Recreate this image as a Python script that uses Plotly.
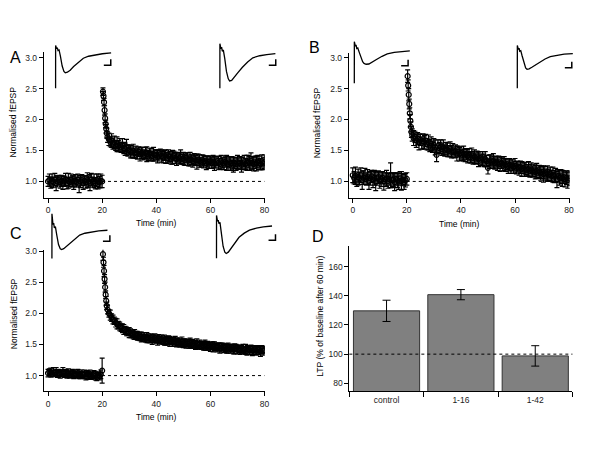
"""
LTP time courses (A-C) with example fEPSP traces, and LTP summary bars (D)
"""

import plotly.graph_objects as go

OFF = 8                       # browser body margin; figure sized to fit inside the view
W, H = 600 - 2 * OFF, 450 - 2 * OFF
FONT = "Liberation Sans, Arial, sans-serif"
FS = 8.5

# ---- time courses: sampling times (min) ----
base_t = [0, 0.5, 1, 1.5, 2, 2.5, 3, 3.5, 4, 4.5,
          5, 5.5, 6, 6.5, 7, 7.5, 8, 8.5, 9, 9.5,
          10, 10.5, 11, 11.5, 12, 12.5, 13, 13.5, 14, 14.5,
          15, 15.5, 16, 16.5, 17, 17.5, 18, 18.5, 19, 19.5, 20]
post_t = [20.3, 20.5, 20.7, 20.9, 21.1, 21.3, 21.5, 21.7,
          22, 22.5, 23, 23.5, 24, 24.5, 25, 25.5, 26, 26.5,
          27, 27.5, 28, 28.5, 29, 29.5, 30, 30.5, 31, 31.5,
          32, 32.5, 33, 33.5, 34, 34.5, 35, 35.5, 36, 36.5,
          37, 37.5, 38, 38.5, 39, 39.5, 40, 40.5, 41, 41.5,
          42, 42.5, 43, 43.5, 44, 44.5, 45, 45.5, 46, 46.5,
          47, 47.5, 48, 48.5, 49, 49.5, 50, 50.5, 51, 51.5,
          52, 52.5, 53, 53.5, 54, 54.5, 55, 55.5, 56, 56.5,
          57, 57.5, 58, 58.5, 59, 59.5, 60, 60.5, 61, 61.5,
          62, 62.5, 63, 63.5, 64, 64.5, 65, 65.5, 66, 66.5,
          67, 67.5, 68, 68.5, 69, 69.5, 70, 70.5, 71, 71.5,
          72, 72.5, 73, 73.5, 74, 74.5, 75, 75.5, 76, 76.5,
          77, 77.5, 78, 78.5, 79, 79.5, 80]

# ---- panel A ----
a_base = [1.0, 1.02, 0.98, 1.01, 0.99, 1.03, 0.97, 1.0, 1.02, 0.99,
          1.01, 0.98, 1.0, 1.03, 0.97, 1.01, 0.99, 1.02, 1.0, 0.98,
          1.01, 0.99, 1.03, 0.96, 1.0, 1.02, 0.98, 1.01, 0.99, 1.02,
          1.0, 0.98, 1.03, 0.99, 1.01, 0.97, 1.02, 1.0, 0.99, 1.01, 1.0]
a_base_err = [0.08, 0.1, 0.09, 0.11, 0.08, 0.1, 0.12, 0.09, 0.08, 0.1,
              0.09, 0.11, 0.08, 0.1, 0.09, 0.12, 0.08, 0.1, 0.09, 0.11,
              0.1, 0.08, 0.09, 0.14, 0.1, 0.09, 0.11, 0.08, 0.1, 0.12,
              0.09, 0.13, 0.1, 0.08, 0.11, 0.09, 0.1, 0.12, 0.09, 0.11, 0.1]
a_post = [2.45, 2.38, 2.28, 2.15, 2.02, 1.93, 1.85, 1.78,
          1.72, 1.68, 1.64, 1.66, 1.61, 1.63, 1.58, 1.6, 1.57, 1.59,
          1.55, 1.58, 1.54, 1.52, 1.55, 1.5, 1.51, 1.48, 1.47, 1.49,
          1.46, 1.47, 1.45, 1.48, 1.44, 1.46, 1.45, 1.43, 1.46, 1.44,
          1.42, 1.45, 1.43, 1.41, 1.44, 1.42, 1.43, 1.4, 1.42, 1.44,
          1.41, 1.39, 1.42, 1.4, 1.38, 1.41, 1.4, 1.37, 1.39, 1.41,
          1.38, 1.36, 1.39, 1.37, 1.4, 1.36, 1.37, 1.35, 1.38, 1.36,
          1.34, 1.36, 1.35, 1.33, 1.36, 1.34, 1.32, 1.35, 1.33, 1.31,
          1.34, 1.32, 1.33, 1.3, 1.32, 1.31, 1.33, 1.3, 1.32, 1.29,
          1.31, 1.33, 1.3, 1.28, 1.31, 1.3, 1.29, 1.32, 1.3, 1.28,
          1.31, 1.29, 1.3, 1.27, 1.3, 1.28, 1.31, 1.29, 1.3, 1.27,
          1.29, 1.31, 1.28, 1.3, 1.32, 1.29, 1.33, 1.3, 1.28, 1.31,
          1.29, 1.32, 1.3, 1.28, 1.31, 1.29, 1.32]
a_post_err = [0.06, 0.07, 0.06, 0.08, 0.07, 0.06, 0.07, 0.08,
              0.09, 0.1, 0.08, 0.11, 0.09, 0.1, 0.08, 0.12, 0.09, 0.1,
              0.08, 0.11, 0.09, 0.1, 0.13, 0.09, 0.08, 0.1, 0.09, 0.11,
              0.08, 0.1, 0.09, 0.08, 0.11, 0.09, 0.1, 0.08, 0.09, 0.12,
              0.08, 0.09, 0.1, 0.08, 0.11, 0.09, 0.08, 0.1, 0.09, 0.08,
              0.1, 0.09, 0.08, 0.11, 0.09, 0.1, 0.08, 0.09, 0.11, 0.08,
              0.09, 0.1, 0.08, 0.09, 0.11, 0.08, 0.1, 0.09, 0.08, 0.1,
              0.09, 0.11, 0.08, 0.1, 0.09, 0.08, 0.12, 0.09, 0.1, 0.08,
              0.09, 0.1, 0.08, 0.11, 0.09, 0.1, 0.08, 0.09, 0.1, 0.11,
              0.09, 0.08, 0.1, 0.09, 0.11, 0.08, 0.1, 0.09, 0.12, 0.1,
              0.09, 0.11, 0.1, 0.12, 0.09, 0.1, 0.11, 0.09, 0.1, 0.12,
              0.1, 0.11, 0.09, 0.12, 0.1, 0.11, 0.13, 0.1, 0.11, 0.1,
              0.12, 0.1, 0.11, 0.09, 0.12, 0.1, 0.11]

# ---- panel B ----
b_base = [1.1, 1.06, 1.09, 1.03, 1.07, 1.05, 1.1, 1.02, 1.06, 1.08,
          1.04, 1.07, 1.01, 1.05, 1.08, 1.03, 1.06, 1.0, 1.05, 1.07,
          1.02, 1.04, 1.06, 1.0, 1.03, 1.05, 1.01, 1.04, 1.1, 1.02,
          1.03, 0.99, 1.04, 1.02, 1.0, 1.05, 1.01, 1.03, 0.99, 1.02, 1.04]
b_base_err = [0.12, 0.1, 0.14, 0.11, 0.13, 0.1, 0.12, 0.15, 0.11, 0.13,
              0.1, 0.12, 0.14, 0.11, 0.1, 0.13, 0.12, 0.15, 0.11, 0.1,
              0.13, 0.12, 0.1, 0.14, 0.11, 0.13, 0.12, 0.1, 0.2, 0.12,
              0.11, 0.14, 0.1, 0.12, 0.13, 0.11, 0.15, 0.1, 0.12, 0.11, 0.1]
b_post = [2.7, 2.55, 2.4, 2.25, 2.1, 1.98, 1.88, 1.8,
          1.75, 1.7, 1.72, 1.66, 1.69, 1.64, 1.67, 1.62, 1.65, 1.63,
          1.66, 1.6, 1.63, 1.58, 1.61, 1.56, 1.59, 1.55, 1.43, 1.57,
          1.54, 1.56, 1.52, 1.55, 1.5, 1.53, 1.51, 1.49, 1.52, 1.48,
          1.5, 1.47, 1.49, 1.45, 1.48, 1.44, 1.46, 1.43, 1.45, 1.42,
          1.44, 1.41, 1.43, 1.39, 1.42, 1.38, 1.4, 1.37, 1.39, 1.36,
          1.38, 1.35, 1.37, 1.34, 1.36, 1.33, 1.22, 1.32, 1.34, 1.31,
          1.33, 1.3, 1.32, 1.29, 1.31, 1.28, 1.3, 1.27, 1.29, 1.26,
          1.28, 1.25, 1.27, 1.24, 1.26, 1.23, 1.25, 1.22, 1.24, 1.21,
          1.23, 1.2, 1.22, 1.19, 1.21, 1.18, 1.2, 1.17, 1.19, 1.16,
          1.18, 1.15, 1.17, 1.14, 1.16, 1.13, 1.15, 1.12, 1.14, 1.11,
          1.13, 1.1, 1.12, 1.09, 1.11, 1.08, 1.1, 1.03, 1.09, 1.06,
          1.08, 1.05, 1.07, 1.03, 1.06, 1.02, 1.05]
b_post_err = [0.1, 0.09, 0.1, 0.08, 0.09, 0.1, 0.08, 0.09,
              0.1, 0.12, 0.09, 0.11, 0.1, 0.13, 0.09, 0.1, 0.12, 0.11,
              0.1, 0.09, 0.12, 0.1, 0.11, 0.09, 0.1, 0.12, 0.11, 0.1,
              0.09, 0.11, 0.1, 0.12, 0.09, 0.1, 0.11, 0.09, 0.12, 0.1,
              0.11, 0.09, 0.1, 0.12, 0.09, 0.11, 0.1, 0.09, 0.12, 0.1,
              0.09, 0.11, 0.1, 0.09, 0.12, 0.1, 0.11, 0.09, 0.1, 0.12,
              0.1, 0.09, 0.11, 0.1, 0.12, 0.09, 0.1, 0.11, 0.09, 0.1,
              0.12, 0.1, 0.09, 0.11, 0.1, 0.12, 0.09, 0.1, 0.11, 0.1,
              0.09, 0.12, 0.1, 0.11, 0.09, 0.1, 0.12, 0.1, 0.09, 0.11,
              0.1, 0.12, 0.09, 0.11, 0.1, 0.09, 0.12, 0.1, 0.11, 0.09,
              0.1, 0.11, 0.12, 0.09, 0.1, 0.11, 0.1, 0.13, 0.1, 0.09,
              0.12, 0.1, 0.11, 0.09, 0.12, 0.1, 0.11, 0.13, 0.1, 0.12,
              0.11, 0.13, 0.1, 0.12, 0.11, 0.13, 0.12]

# ---- panel C ----
c_base = [1.04, 1.06, 1.05, 1.03, 1.07, 1.04, 1.06, 1.03, 1.05, 1.02,
          1.04, 1.06, 1.03, 1.05, 1.02, 1.04, 1.01, 1.03, 1.05, 1.02,
          1.03, 1.01, 1.04, 1.02, 1.0, 1.03, 1.01, 1.02, 0.99, 1.03,
          1.0, 1.02, 0.99, 1.01, 1.03, 1.0, 0.98, 1.01, 0.99, 1.02, 1.08]
c_base_err = [0.06, 0.05, 0.07, 0.05, 0.06, 0.05, 0.07, 0.06, 0.05, 0.06,
              0.05, 0.07, 0.06, 0.05, 0.06, 0.07, 0.05, 0.06, 0.05, 0.07,
              0.06, 0.05, 0.06, 0.07, 0.05, 0.06, 0.05, 0.07, 0.06, 0.05,
              0.06, 0.07, 0.05, 0.06, 0.05, 0.07, 0.06, 0.05, 0.06, 0.07, 0.2]
c_post = [2.95, 2.82, 2.68, 2.55, 2.42, 2.3, 2.2, 2.12,
          2.06, 2.0, 1.97, 1.93, 1.9, 1.88, 1.85, 1.83, 1.81, 1.79,
          1.77, 1.76, 1.74, 1.73, 1.71, 1.7, 1.69, 1.68, 1.67, 1.66,
          1.66, 1.65, 1.64, 1.63, 1.63, 1.62, 1.61, 1.62, 1.6, 1.61,
          1.6, 1.59, 1.6, 1.58, 1.59, 1.6, 1.58, 1.57, 1.59, 1.57,
          1.58, 1.56, 1.57, 1.56, 1.55, 1.57, 1.55, 1.56, 1.54, 1.55,
          1.55, 1.53, 1.54, 1.53, 1.52, 1.54, 1.52, 1.53, 1.51, 1.52,
          1.51, 1.52, 1.5, 1.51, 1.5, 1.49, 1.51, 1.49, 1.5, 1.48,
          1.49, 1.48, 1.49, 1.47, 1.48, 1.47, 1.46, 1.48, 1.46, 1.47,
          1.46, 1.45, 1.46, 1.44, 1.45, 1.46, 1.44, 1.45, 1.43, 1.44,
          1.44, 1.43, 1.44, 1.42, 1.43, 1.44, 1.42, 1.43, 1.41, 1.42,
          1.43, 1.41, 1.42, 1.4, 1.42, 1.41, 1.43, 1.4, 1.41, 1.42,
          1.4, 1.42, 1.41, 1.39, 1.42, 1.4, 1.41]
c_post_err = [0.1, 0.08, 0.09, 0.07, 0.08, 0.06, 0.07, 0.06,
              0.07, 0.06, 0.08, 0.06, 0.07, 0.06, 0.07, 0.08, 0.06, 0.07,
              0.06, 0.07, 0.08, 0.06, 0.07, 0.06, 0.08, 0.07, 0.06, 0.07,
              0.08, 0.06, 0.07, 0.06, 0.07, 0.08, 0.06, 0.07, 0.06, 0.08,
              0.07, 0.06, 0.07, 0.08, 0.06, 0.07, 0.06, 0.08, 0.07, 0.06,
              0.07, 0.06, 0.08, 0.07, 0.06, 0.07, 0.08, 0.06, 0.07, 0.06,
              0.08, 0.07, 0.06, 0.07, 0.06, 0.08, 0.07, 0.06, 0.07, 0.06,
              0.07, 0.08, 0.06, 0.07, 0.06, 0.07, 0.08, 0.06, 0.07, 0.06,
              0.06, 0.07, 0.08, 0.06, 0.07, 0.06, 0.07, 0.06, 0.08, 0.07,
              0.06, 0.07, 0.06, 0.08, 0.07, 0.06, 0.07, 0.06, 0.07, 0.08,
              0.06, 0.07, 0.06, 0.07, 0.08, 0.06, 0.07, 0.06, 0.07, 0.06,
              0.07, 0.06, 0.08, 0.07, 0.06, 0.07, 0.06, 0.08, 0.07, 0.06,
              0.07, 0.06, 0.07, 0.08, 0.06, 0.07, 0.06]

# ---- panel D ----
groups = ["control", "1-16", "1-42"]
ltp = [129.7, 140.8, 98.8]
ltp_err = [7.3, 3.5, 7.0]

# ---- example fEPSP traces (ms, mV relative to baseline) ----
wave_t = [0, 0.01, 0.3, 0.5, 0.7, 1.0, 1.4, 1.9, 2.4, 2.8,
          3.4, 4.2, 5.2, 6.5, 8, 9.5, 11.5, 13.5, 16]
wave_a1 = [-2.97, 0.63, 0.35, 0.45, 0.2, 0.25, -0.3, -1.1, -1.55, -1.67,
           -1.62, -1.45, -1.15, -0.8, -0.45, -0.28, -0.15, -0.07, 0]
wave_a2 = [-2.92, 0.83, 0.4, 0.55, 0.2, 0.3, -0.4, -1.5, -2.1, -2.3,
           -2.25, -2.0, -1.6, -1.15, -0.7, -0.35, -0.18, -0.08, 0]
wave_b1 = [-2.72, 0.78, 0.4, 0.5, 0.2, 0.25, -0.1, -0.55, -0.9, -1.05,
           -1.12, -1.1, -0.95, -0.7, -0.45, -0.25, -0.12, -0.05, 0]
wave_b2 = [-2.92, 0.69, 0.35, 0.45, 0.2, 0.25, -0.2, -0.8, -1.2, -1.31,
           -1.28, -1.15, -0.95, -0.7, -0.45, -0.25, -0.12, -0.05, 0]
wave_c1 = [-2.37, 1.38, 0.5, 0.6, 0.2, 0.3, -0.4, -1.2, -1.55, -1.62,
           -1.55, -1.35, -1.05, -0.7, -0.4, -0.25, -0.13, -0.05, 0]
wave_c2 = [-2.72, 0.89, 0.4, 0.5, 0.2, 0.3, -0.6, -1.7, -2.2, -2.31,
           -2.2, -1.85, -1.45, -0.95, -0.6, -0.35, -0.18, -0.07, 0]
scale_ms, scale_mv = 2.0, 0.5


# positions below are given in page pixels of the 600x450 view
def xdom(left, right):
    return [(left - OFF) / W, (right - OFF) / W]


def ydom(top, bottom):
    return [1 - (bottom - OFF) / H, 1 - (top - OFF) / H]


fig = go.Figure()

axis_style = dict(showline=True, linecolor="black", linewidth=1, ticks="outside",
                  ticklen=4, tickcolor="black", showgrid=False, zeroline=False,
                  tickfont=dict(size=FS, color="#222", family=FONT))

# panel layout: (suffix, x domain px, y domain px, x range, y range, baseline, post)
panels = [
    ("", (44, 267), (48, 196), [-1.6, 80.1], [0.728, 3.096],
     (a_base, a_base_err), (a_post, a_post_err)),
    ("2", (351.7, 574.5), (49, 196), [-1.47, 80.2], [0.728, 3.08],
     (b_base, b_base_err), (b_post, b_post_err)),
    ("3", (44, 267), (248, 391), [-1.6, 80.1], [0.745, 3.02],
     (c_base, c_base_err), (c_post, c_post_err)),
]

for sfx, xd, yd, xr, yr, base, post in panels:
    xa, ya = "x" + sfx, "y" + sfx
    fig.add_shape(type="line", xref=xa, yref=ya, x0=0, x1=80, y0=1, y1=1,
                  line=dict(color="black", width=1, dash="3px,3px"), layer="below")
    fig.add_trace(go.Scatter(
        x=base_t + post_t, y=base[0] + post[0], xaxis=xa, yaxis=ya,
        mode="markers", marker=dict(symbol="circle-open", size=5, color="black",
                                    line=dict(width=1.2)),
        error_y=dict(type="data", array=base[1] + post[1], thickness=1.2,
                     width=2.5, color="black"),
        showlegend=False, hoverinfo="skip"))
    fig.layout["xaxis" + sfx] = dict(axis_style, domain=xdom(*xd), range=xr,
                                     anchor=ya, tickvals=[0, 20, 40, 60, 80])
    fig.layout["yaxis" + sfx] = dict(axis_style, domain=ydom(*yd), range=yr,
                                     anchor=xa, tickvals=[1.0, 1.5, 2.0, 2.5, 3.0],
                                     tickformat=".1f")

# panel D bars
fig.add_trace(go.Bar(
    x=groups, y=ltp, xaxis="x4", yaxis="y4",
    marker=dict(color="#808080", line=dict(color="#333", width=1)),
    error_y=dict(type="data", array=ltp_err, thickness=1, width=4, color="black"),
    showlegend=False, hoverinfo="skip"))
fig.add_shape(type="line", xref="x4 domain", yref="y4", x0=0, x1=1, y0=100, y1=100,
              line=dict(color="black", width=1, dash="3px,3px"), layer="above")
fig.layout["xaxis4"] = dict(axis_style, domain=xdom(352.3, 577.3), anchor="y4",
                            type="category", tickson="boundaries", ticklen=5)
fig.layout["yaxis4"] = dict(axis_style, domain=ydom(244, 391), range=[74.4, 174.3],
                            anchor="x4", tickvals=[80, 100, 120, 140, 160])

# inset traces: (stim x px, baseline y px, waveform, scale bar corner ms/mV)
insets = [
    (56, 49.3, wave_a1, (15.9, -1.03)),
    (221.7, 50, wave_a2, (16.1, -0.98)),
    (357.3, 47.3, wave_b1, (15.5, -1.25)),
    (521.7, 50, wave_b2, (15.7, -1.19)),
    (52.3, 228.3, wave_c1, (16.7, -0.92)),
    (218.3, 224, wave_c2, (17.0, -1.19)),
]
px_ms, px_mv = 3.5, 12
for i, (sx, by, wave, (cx, cy)) in enumerate(insets, start=5):
    xa, ya = "x%d" % i, "y%d" % i
    fig.add_trace(go.Scatter(x=wave_t, y=wave, xaxis=xa, yaxis=ya, mode="lines",
                             line=dict(color="black", width=1.3),
                             showlegend=False, hoverinfo="skip"))
    fig.add_trace(go.Scatter(x=[cx - scale_ms, cx, cx], y=[cy, cy, cy + scale_mv],
                             xaxis=xa, yaxis=ya, mode="lines",
                             line=dict(color="black", width=1.5),
                             showlegend=False, hoverinfo="skip"))
    fig.layout["xaxis%d" % i] = dict(visible=False, anchor=ya, range=[-1, 19],
                                     domain=xdom(sx - 1 * px_ms, sx + 19 * px_ms))
    fig.layout["yaxis%d" % i] = dict(visible=False, anchor=xa, range=[-3.2, 1.6],
                                     domain=ydom(by - 1.6 * px_mv, by + 3.2 * px_mv))


# labels
def label(text, x, y, size=FS, angle=0, xanchor="center"):
    fig.add_annotation(text=text, x=(x - OFF) / W, y=1 - (y - OFF) / H,
                       xref="paper", yref="paper", showarrow=False, textangle=angle,
                       xanchor=xanchor, yanchor="middle",
                       font=dict(size=size, color="black", family=FONT))


label("A", 8, 54, size=16, xanchor="left")
label("B", 317, 44, size=16)
label("C", 8.5, 232, size=16, xanchor="left")
label("D", 321, 235, size=16)
for x, y in [(157, 221), (463, 221.5), (157, 416.5)]:
    label("Time (min)", x, y)
for x, y in [(13.5, 119), (320.5, 119.5), (13.5, 312.5)]:
    label("Normalised fEPSP", x, y, angle=-90)
label("LTP (% of baseline after 60 min)", 323.3, 315, angle=-90)

fig.update_layout(width=W, height=H, margin=dict(l=0, r=0, t=0, b=0),
                  paper_bgcolor="white", plot_bgcolor="rgba(0,0,0,0)",
                  bargap=0.11, font=dict(family=FONT))

fig.write_html("out.html")
